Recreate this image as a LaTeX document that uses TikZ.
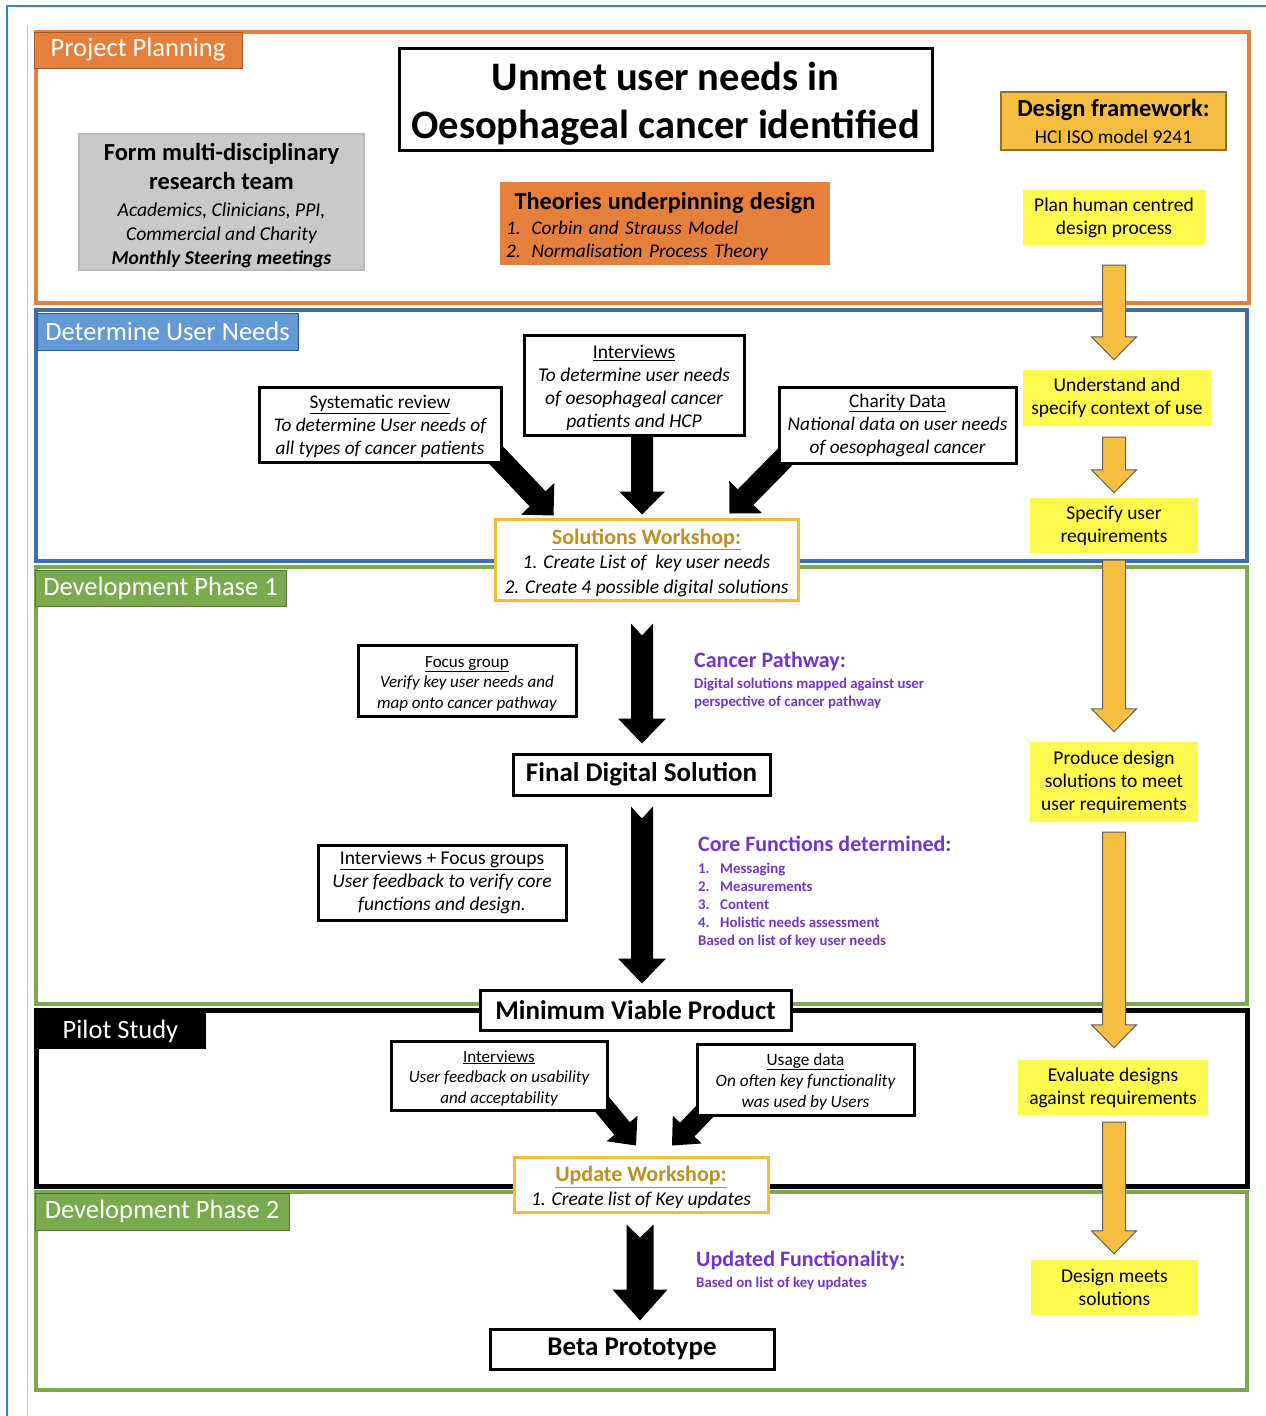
\documentclass[tikz,border=0pt]{standalone}
\usepackage{fontspec}
\setmainfont{Carlito}
\usetikzlibrary{calc,backgrounds}

\definecolor{ppOrange}{HTML}{E4803C}
\definecolor{needBlue}{HTML}{3D6FB0}
\definecolor{tabBlue}{HTML}{6499D8}
\definecolor{devGreen}{HTML}{79AB4E}
\definecolor{hciGold}{HTML}{F5BE41}
\definecolor{hciYellow}{HTML}{FEF94F}
\definecolor{wsGold}{HTML}{F5B93E}
\definecolor{wsText}{HTML}{BF9020}
\definecolor{notePurple}{HTML}{7034D4}
\definecolor{teamGrey}{HTML}{C9C9C9}
\definecolor{pageBlue}{HTML}{2B88C8}

\newcommand{\fs}[2]{\fontsize{#1}{#2}\selectfont}
\newcommand{\wshead}[1]{{\color{wsText}\fs{22}{25}\upshape\bfseries\rule{0pt}{22pt}\underline{#1}}}

% block arrow from #2 to #3, sizes taken from \shaftw \headw \headlen \notch
\newcommand{\blockarrow}[3][]{%
  \coordinate (ba-c) at ($(#3)!\headlen!(#2)$);
  \filldraw[#1] ($(#2)!\shaftw!90:(#3)$) -- ($(ba-c)!\shaftw!90:(#3)$)
    -- ($(ba-c)!\headw!90:(#3)$) -- (#3)
    -- ($(ba-c)!\headw!-90:(#3)$) -- ($(ba-c)!\shaftw!-90:(#3)$)
    -- ($(#2)!\shaftw!-90:(#3)$) -- ($(#2)!\notch!(#3)$) -- cycle;}

\begin{document}
\begin{tikzpicture}[x=1pt, y=-1pt,
    box/.style={draw, line width=3, fill=white, align=center, inner sep=0},
    ybox/.style={fill=hciYellow, align=center, inner sep=0, font=\fs{19.5}{23}},
    tab/.style={inner sep=0, text=white, font=\fs{26.5}{30}},
    frame/.style={line width=4},
    note/.style={anchor=north west, inner sep=0, align=left, text=notePurple, font=\fs{14.8}{18}\bfseries},
    ws/.style={draw=wsGold, line width=3, fill=white, align=center, inner sep=0},
    blk/.style={fill=black, draw=none},
    hci/.style={fill=hciGold, draw=gray!75!black, line width=1}
]
\useasboundingbox (0,0) rectangle (1266,1416);

% page edges
\draw[pageBlue, line width=2] (7,1416) -- (7,6) -- (1266,6);
\draw[gray!45, line width=1] (27,25) -- (27,1416);

% --- FRAMES ---
\draw[frame, ppOrange] (36,32) rectangle (1249,303);
\draw[frame, needBlue] (36,310) rectangle (1247,561);
\draw[frame, devGreen] (36,567) rectangle (1247,1004);
\draw[frame, black, line width=5] (36,1010) rectangle (1247,1186);
\draw[frame, devGreen] (36,1192) rectangle (1247,1390);

% --- TABS ---
\node[tab, fill=ppOrange, draw=ppOrange!70!black, minimum width=208, minimum height=36]
  (tabPlan) at (138,50) {Project Planning};
\node[tab, fill=tabBlue, draw=needBlue!80!black, minimum width=261, minimum height=37]
  (tabNeeds) at (167.5,331.5) {Determine User Needs};
\node[tab, fill=devGreen, draw=devGreen!70!black, minimum width=251, minimum height=36]
  (tabDev1) at (160.5,588) {Development Phase 1};
\node[tab, fill=black, minimum width=171, minimum height=36]
  (tabPilot) at (120.5,1031) {Pilot Study};
\node[tab, fill=devGreen, draw=devGreen!70!black, minimum width=254, minimum height=37]
  (tabDev2) at (162,1211.5) {Development Phase 2};

% --- PROJECT PLANNING ---
\node[box, minimum width=533, minimum height=102, font=\fs{40.5}{48}\bfseries]
  (title) at (665.5,99) {\rule{0pt}{38pt}Unmet user needs in\\Oesophageal cancer identified};

\node[fill=teamGrey, draw=gray!55, line width=2, minimum width=285, minimum height=136,
      inner sep=0, align=center, font=\fs{19.6}{24}\itshape]
  (team) at (221.5,202) {\fs{24.5}{29}\upshape\bfseries\rule{0pt}{25pt}Form multi-disciplinary\\[5pt]
  \fs{24.5}{29}\upshape\bfseries research team\\[3pt]
  Academics, Clinicians, PPI,\\
  Commercial and Charity\\
  \bfseries Monthly Steering meetings};

\node[fill=ppOrange, minimum height=83, text width=318, inner xsep=6, inner ysep=0,
      align=left, font=\fs{19.3}{23}\itshape]
  (theories) at (665,223.5) {\makebox[\linewidth]{\fs{24.3}{27}\upshape\bfseries\rule{0pt}{24pt}Theories underpinning design}\\[2pt]
  1.\hspace{11pt}Corbin and Strauss Model\\2.\hspace{11pt}Normalisation Process Theory};

\node[fill=hciGold, draw=hciGold!60!black, line width=1.5, minimum width=225, minimum height=58,
      inner sep=0, align=center, font=\fs{24.5}{27}\bfseries]
  (framework) at (1113.5,121) {Design framework:\\\fs{19.5}{22}\mdseries HCI ISO model 9241};

% --- HCI STEPS ---
\node[ybox, minimum width=182, minimum height=55] (plan) at (1114,217.5)
  {Plan human centred\\design process};
\node[ybox, minimum width=188, minimum height=56] (understand) at (1117,398)
  {Understand and\\specify context of use};
\node[ybox, minimum width=168, minimum height=55] (specify) at (1114,525.5)
  {Specify user\\requirements};
\node[ybox, minimum width=168, minimum height=80] (produce) at (1114,782)
  {Produce design\\solutions to meet\\user requirements};
\node[ybox, minimum width=190, minimum height=55] (evaluate) at (1113,1087.5)
  {Evaluate designs\\against requirements};
\node[ybox, minimum width=167, minimum height=55] (meets) at (1114.5,1287.5)
  {Design meets\\solutions};

% --- USER NEEDS ---
\node[box, minimum width=242, minimum height=75, font=\fs{19.3}{23}\itshape] (sysrev) at (380,424.5)
  {\upshape\rule{0pt}{18pt}\underline{Systematic review}\\To determine User needs of\\all types of cancer patients};
\node[box, minimum width=220, minimum height=100, font=\fs{19.5}{23}\itshape] (interv1) at (634,385)
  {\upshape\rule{0pt}{19pt}\underline{Interviews}\\To determine user needs\\of oesophageal cancer\\patients and HCP};
\node[box, minimum width=237, minimum height=76, font=\fs{19.3}{23}\itshape] (charity) at (897.5,425)
  {\upshape\underline{Charity Data}\\National data on user needs\\of oesophageal cancer};
\node[ws, minimum width=303, minimum height=81, font=\fs{19.5}{24.5}\itshape] (solws) at (646.5,559.5)
  {\wshead{Solutions Workshop:}\\
  1. Create List of\ \ key user needs\\2. Create 4 possible digital solutions};

% --- DEVELOPMENT PHASE 1 ---
\node[box, minimum width=218, minimum height=71, font=\fs{17}{20.5}\itshape] (focus) at (467,680.5)
  {\upshape\rule{0pt}{17pt}\underline{Focus group}\\Verify key user needs and\\map onto cancer pathway};
\node[note] (pathway) at (694,652)
  {\fs{22}{25}Cancer Pathway:\\[3pt]Digital solutions mapped against user\\perspective of cancer pathway};
\node[box, minimum width=257, minimum height=41, font=\fs{27}{30}\bfseries] (final) at (641.5,774.5)
  {Final Digital Solution};
\node[box, minimum width=248, minimum height=75, font=\fs{19.5}{23}\itshape] (intfocus) at (442,882.5)
  {\upshape\underline{Interviews + Focus groups}\\User feedback to verify core\\functions and design.};
\node[note] (corefn) at (698,836)
  {\fs{22}{25}Core Functions determined:\\[4pt]\makebox[22pt][l]{1.}Messaging\\
  \makebox[22pt][l]{2.}Measurements\\\makebox[22pt][l]{3.}Content\\
  \makebox[22pt][l]{4.}Holistic needs assessment\\Based on list of key user needs};
\node[box, minimum width=311, minimum height=40, font=\fs{27}{30}\bfseries] (mvp) at (635.5,1010)
  {Minimum Viable Product};

% --- PILOT STUDY ---
\node[box, minimum width=216, minimum height=69, font=\fs{17}{20.5}\itshape] (pilotint) at (499,1075.5)
  {\upshape\rule{0pt}{17pt}\underline{Interviews}\\User feedback on usability\\and acceptability};
\node[box, minimum width=217, minimum height=71, font=\fs{17.3}{21}\itshape] (usage) at (805.5,1079.5)
  {\upshape\rule{0pt}{16pt}\underline{Usage data}\\On often key functionality\\was used by Users};
\node[ws, minimum width=254, minimum height=55, font=\fs{19.5}{24}\itshape] (updws) at (641,1184.5)
  {\wshead{Update Workshop:}\\1. Create list of Key updates};

% --- DEVELOPMENT PHASE 2 ---
\node[note] (updfn) at (696,1251)
  {\fs{22}{25}Updated Functionality:\\[3pt]Based on list of key updates};
\node[box, minimum width=284, minimum height=40, font=\fs{27}{30}\bfseries] (beta) at (632,1349)
  {Beta Prototype};

% --- HCI ARROWS ---
\coordinate (h1-s) at ($(plan.south)+(0,20)$);
\coordinate (h1-e) at ($(plan.south |- understand.north)+(0,-10)$);
\coordinate (h2-s) at ($(plan.south |- understand.south)+(0,11)$);
\coordinate (h2-e) at ($(specify.north)+(0,-5)$);
\coordinate (h3-s) at ($(specify.south)+(0,7)$);
\coordinate (h3-e) at ($(produce.north)+(0,-10)$);
\coordinate (h4-s) at ($(produce.south)+(0,10)$);
\coordinate (h4-e) at ($(specify.south |- evaluate.north)+(0,-12)$);
\coordinate (h5-s) at ($(specify.south |- evaluate.south)+(0,7)$);
\coordinate (h5-e) at ($(specify.south |- meets.north)+(0,-6)$);

\def\shaftw{11.5pt}\def\headw{22.5pt}\def\headlen{23pt}\def\notch{0pt}
\blockarrow[hci]{h1-s}{h1-e}
\blockarrow[hci]{h2-s}{h2-e}
\blockarrow[hci]{h3-s}{h3-e}
\blockarrow[hci]{h4-s}{h4-e}
\blockarrow[hci]{h5-s}{h5-e}

% --- FLOW ARROWS ---
\coordinate (sr-s) at ($(sysrev.south east)+(-8,-10)$);
\coordinate (sr-e) at ($(solws.north west)+(60,-2)$);
\coordinate (iv-s) at ($(interv1.south)+(8,0)$);
\coordinate (iv-e) at ($(solws.north)+(-4.5,-3)$);
\coordinate (cd-s) at ($(charity.south west)+(10,-10)$);
\coordinate (cd-e) at ($(solws.north east)+(-70,-4)$);
\coordinate (ws-s) at ($(solws.south)+(-4.5,22)$);
\coordinate (ws-e) at ($(final.north)+(0.5,-9)$);
\coordinate (fd-s) at ($(final.south)+(0.5,10)$);
\coordinate (fd-e) at ($(mvp.north)+(6.5,-5)$);
\coordinate (pi-s) at ($(pilotint.south east)+(-17,-20)$);
\coordinate (pi-e) at ($(updws.north)+(-5,-10)$);
\coordinate (ud-s) at ($(usage.south west)+(12,-8)$);
\coordinate (ud-e) at ($(updws.north)+(31,-10)$);
\coordinate (uw-s) at ($(updws.south)+(-1,11)$);
\coordinate (uw-e) at ($(beta.north)+(8,-7)$);

\begin{scope}[on background layer]
  \def\shaftw{11pt}\def\headw{23pt}\def\headlen{23pt}\def\notch{0pt}
  \blockarrow[blk]{sr-s}{sr-e}
  \blockarrow[blk]{iv-s}{iv-e}
  \blockarrow[blk]{cd-s}{cd-e}
  \def\headw{24pt}\def\headlen{25pt}\def\notch{12pt}
  \blockarrow[blk]{ws-s}{ws-e}
  \blockarrow[blk]{fd-s}{fd-e}
  \def\shaftw{10pt}\def\headw{20pt}\def\headlen{22pt}\def\notch{0pt}
  \blockarrow[blk]{pi-s}{pi-e}
  \blockarrow[blk]{ud-s}{ud-e}
  \def\shaftw{13.5pt}\def\headw{27.5pt}\def\headlen{31pt}\def\notch{13pt}
  \blockarrow[blk]{uw-s}{uw-e}
\end{scope}

\end{tikzpicture}
\end{document}
